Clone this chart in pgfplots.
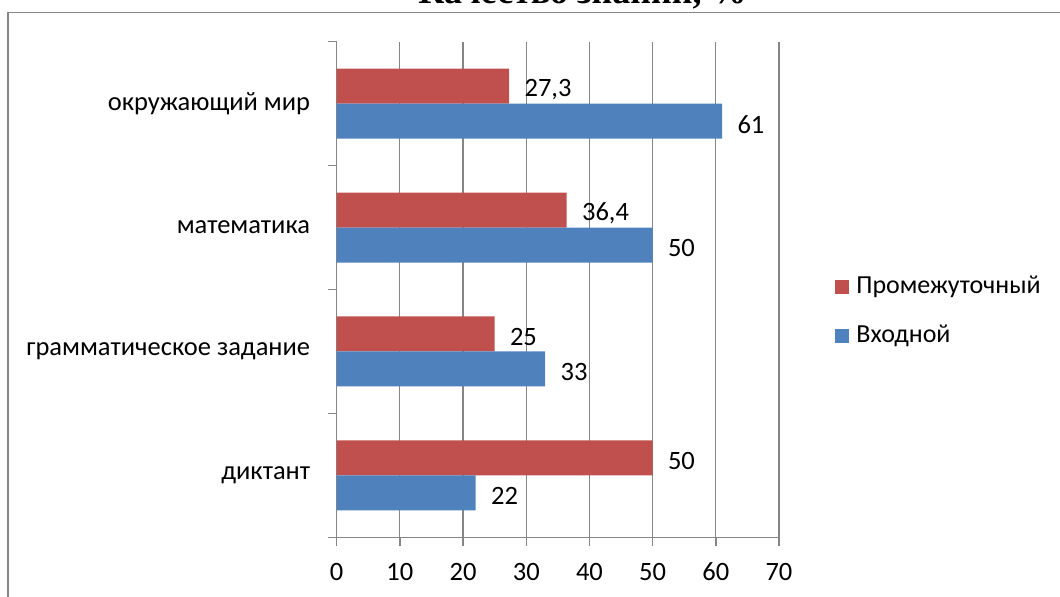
\documentclass[border=0pt]{standalone}
\usepackage{pgfplots}
\pgfplotsset{compat=1.18}
\usepackage{fontspec}
\setmainfont{Carlito}
\newfontfamily\titlefont{Liberation Serif}
\definecolor{redbar}{HTML}{C0504D}
\definecolor{bluebar}{HTML}{4F81BD}
\definecolor{axgray}{HTML}{868686}
\begin{document}
\begin{tikzpicture}
\path[use as bounding box] (0pt,0pt) rectangle (530pt,-298.5pt);
\clip (0pt,0pt) rectangle (530pt,-298.5pt);
% frame
\draw[axgray, line width=0.75pt] (4pt,-340pt) -- (4pt,-6.25pt) -- (560pt,-6.25pt);
% title
\node[anchor=base, inner sep=0pt, font=\titlefont\fontsize{18}{20}\selectfont\bfseries] at (291.25pt,-2pt) {Качество знаний, \%};
\begin{axis}[
  at={(168.35pt,-268.65pt)}, anchor=south west,
  scale only axis, width=221.15pt, height=247.8pt,
  xbar, bar width=0.2825,
  xmin=0, xmax=70, ymin=-0.5, ymax=3.5,
  xtick={0,10,...,70},
  ytick={-0.5,0.5,1.5,2.5,3.5},
  yticklabels={},
  extra y ticks={0,1,2,3},
  extra y tick labels={диктант, грамматическое задание, математика, окружающий мир},
  extra y tick style={tick style={draw=none}},
  axis x line*=bottom, axis y line*=left,
  axis line style={axgray, line width=0.75pt},
  tick align=outside,
  major tick length=4.25pt,
  tick style={axgray, line width=0.75pt},
  xmajorgrids, major grid style={axgray, line width=0.6pt},
  tick label style={font=\fontsize{13.25}{16}\selectfont, /pgf/number format/assume math mode=true},
  yticklabel style={anchor=east, xshift=-5.5pt},
  xticklabel style={yshift=-5pt},
  nodes near coords={\pgfmathprintnumber[use comma, fixed]{\pgfplotspointmeta}},
  nodes near coords style={anchor=west, inner sep=0pt, xshift=7.5pt, yshift=-1.5pt, font=\fontsize{13.25}{16}\selectfont, black, /pgf/number format/assume math mode=true},
  legend style={at={(1.1266,0.4555)}, anchor=west, draw=none, fill=none, inner sep=0pt,
    font=\fontsize{13}{16}\selectfont, row sep=12.5pt,
    nodes={inner sep=0pt, text height=9pt, text depth=3pt}},
  legend cell align=left,
  legend image code/.code={\fill[#1] (0pt,-3.5pt) rectangle (7pt,3.5pt);},
  clip=false,
]
\addplot[fill=redbar, draw=none, bar shift=0.1413] coordinates {(50,0) (25,1) (36.4,2) (27.3,3)};
\addlegendentry{\hspace{3.5pt}Промежуточный}
\addplot[fill=bluebar, draw=none, bar shift=-0.1413] coordinates {(22,0) (33,1) (50,2) (61,3)};
\addlegendentry{\hspace{3.5pt}Входной}
\end{axis}
\end{tikzpicture}
\end{document}
